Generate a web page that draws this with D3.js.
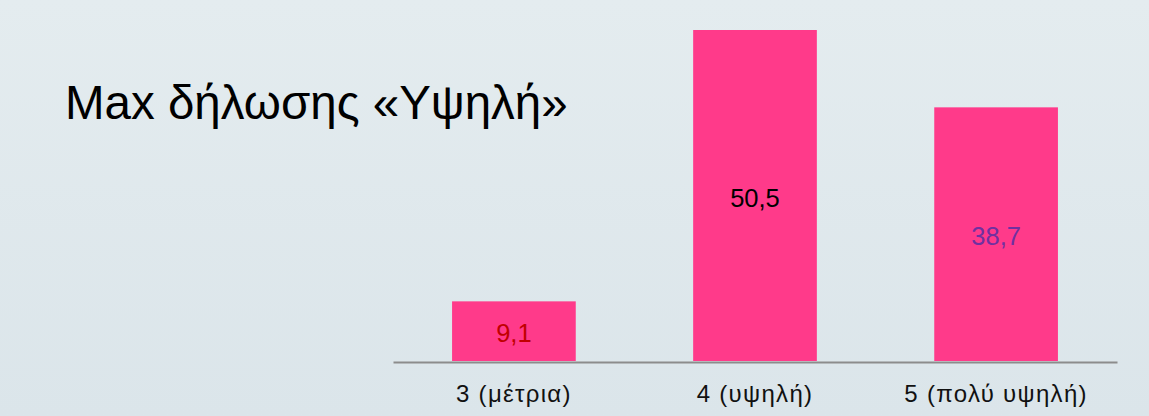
<!DOCTYPE html>
<html>
<head>
<meta charset="utf-8">
<script src="https://cdn.jsdelivr.net/npm/d3@7"></script>
<style>
  html, body { margin: 0; padding: 0; overflow: hidden; }
  svg { display: block; }
</style>
</head>
<body>
<svg id="chart" width="1149" height="416"></svg>
<script>
// données
const categories = ["3 (μέτρια)", "4 (υψηλή)", "5 (πολύ υψηλή)"];
const values = [9.1, 50.5, 38.7];
const valueLabels = ["9,1", "50,5", "38,7"];
const labelColors = ["#c00000", "#000000", "#7030a0"];
const title = "Max δήλωσης «Υψηλή»";

const svg = d3.select("#chart");
const W = +svg.attr("width"), H = +svg.attr("height");

// fond en dégradé léger
const grad = svg.append("defs").append("linearGradient")
  .attr("id", "bg").attr("x1", 0).attr("y1", 0).attr("x2", 0).attr("y2", 1);
grad.append("stop").attr("offset", "0%").attr("stop-color", "#e4ecef");
grad.append("stop").attr("offset", "100%").attr("stop-color", "#dbe5ea");
svg.append("rect").attr("width", W).attr("height", H).attr("fill", "url(#bg)");

const x = d3.scaleBand()
  .domain(categories)
  .range([393, 1117])
  .paddingInner(0.487)
  .paddingOuter(0.245);

const y = d3.scaleLinear()
  .domain([0, d3.max(values)])
  .range([361, 30]);

const data = categories.map((c, i) => ({ cat: c, v: values[i], lab: valueLabels[i], col: labelColors[i] }));

// barres
svg.append("g").selectAll("rect")
  .data(data)
  .enter().append("rect")
  .attr("x", d => x(d.cat))
  .attr("y", d => y(d.v))
  .attr("width", x.bandwidth())
  .attr("height", d => y(0) - y(d.v))
  .attr("fill", "#ff3a8a");

// étiquettes de valeurs au milieu des barres
svg.append("g").selectAll("text")
  .data(data)
  .enter().append("text")
  .attr("x", d => x(d.cat) + x.bandwidth() / 2)
  .attr("y", d => (y(d.v) + y(0)) / 2)
  .attr("dy", "0.44em")
  .attr("text-anchor", "middle")
  .style("font-family", "'Liberation Sans', Arial, sans-serif")
  .style("font-size", "25.5px")
  .attr("fill", d => d.col)
  .text(d => d.lab);

// axe des catégories
const axis = svg.append("g")
  .attr("transform", `translate(0,${y(0) + 1})`)
  .call(d3.axisBottom(x).tickSize(0).tickPadding(23));
axis.select(".domain").attr("stroke", "#8c8c8c").attr("stroke-width", 2);
axis.selectAll(".tick text")
  .style("font-family", "'Liberation Sans', Arial, sans-serif")
  .style("font-size", "24px")
  .style("letter-spacing", "1.3px")
  .attr("fill", "#111");

// titre
svg.append("text")
  .attr("x", 65)
  .attr("y", 119)
  .style("font-family", "'Liberation Sans', Arial, sans-serif")
  .style("font-size", "47.5px")
  .attr("fill", "#000")
  .text(title);
</script>
</body>
</html>
